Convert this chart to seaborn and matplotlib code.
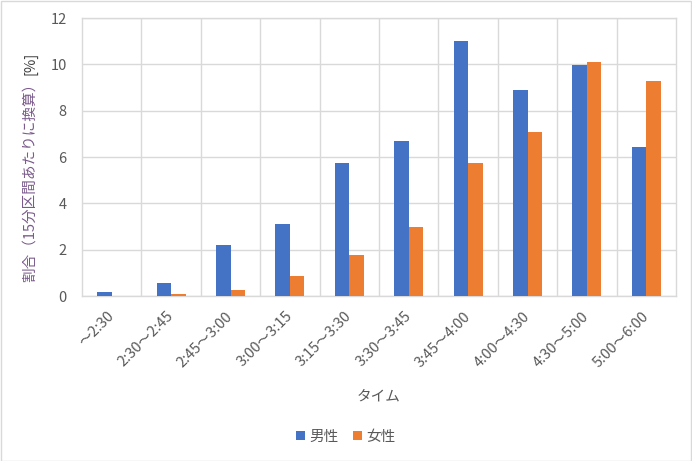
import matplotlib
matplotlib.use("Agg")
import matplotlib.pyplot as plt
import seaborn as sns
import pandas as pd
from matplotlib.patches import Rectangle

# データ
categories = ["～2:30", "2:30～2:45", "2:45～3:00", "3:00～3:15", "3:15～3:30",
              "3:30～3:45", "3:45～4:00", "4:00～4:30", "4:30～5:00", "5:00～6:00"]
male = [0.16, 0.55, 2.18, 3.09, 5.76, 6.67, 11.02, 8.91, 9.95, 6.45]
female = [0.0, 0.07, 0.24, 0.85, 1.75, 2.96, 5.76, 7.10, 10.12, 9.26]
series = ["男性", "女性"]
colors = ["#4472C4", "#ED7D31"]
yticks = [0, 2, 4, 6, 8, 10, 12]

df = pd.DataFrame({
    "タイム": categories * 2,
    "割合": male + female,
    "性別": [series[0]] * len(male) + [series[1]] * len(female),
})

sns.set_theme(style="white")
plt.rcParams["font.family"] = ["Noto Sans CJK JP", "DejaVu Sans"]
text_gray = "#595959"
grid_gray = "#d9d9d9"

W, H = 692, 461
fig = plt.figure(figsize=(W / 100, H / 100), dpi=100)
ax = fig.add_axes([82 / W, 1 - 296 / H, (676 - 82) / W, (296 - 18) / H])

sns.barplot(data=df, x="タイム", y="割合", hue="性別", palette=colors,
            width=0.49, saturation=1, linewidth=0, ax=ax, zorder=3)

ax.set_xlim(-0.5, len(categories) - 0.5)
ax.set_ylim(0, 12)
ax.set_yticks(yticks)
ax.set_xticks(range(len(categories)))
ax.set_xticklabels(categories, rotation=45, ha="right", va="center",
                   rotation_mode="anchor", fontsize=10.5, color=text_gray)
ax.set_yticklabels([str(v) for v in yticks], fontsize=10.5, color=text_gray)
ax.tick_params(axis="both", length=0)
ax.tick_params(axis="x", pad=13)
ax.tick_params(axis="y", pad=11)

# グリッド（縦線はカテゴリの境界）
ax.set_xticks([i + 0.5 for i in range(len(categories) - 1)], minor=True)
ax.tick_params(axis="x", which="minor", length=0)
ax.grid(axis="y", color=grid_gray, linewidth=1, zorder=0)
ax.grid(axis="x", which="minor", color=grid_gray, linewidth=1, zorder=0)
ax.grid(axis="x", which="major", visible=False)
for s in ax.spines.values():
    s.set_color(grid_gray)
    s.set_linewidth(1)

ax.set_xlabel("タイム", fontsize=10.5, color=text_gray, labelpad=14)
ax.set_ylabel("")

# 凡例
handles, labels = ax.get_legend_handles_labels()
ax.legend_.remove()
fig.legend(handles, labels, loc="center", bbox_to_anchor=(0.5, 1 - 437 / H),
           ncol=2, frameon=False, fontsize=10.5, labelcolor=text_gray,
           handlelength=0.6, handleheight=0.6, handletextpad=0.3,
           columnspacing=1.0)

# 縦軸ラベル（二色）
t1 = fig.text(30 / W, 1 - 282 / H, "割合（15分区間あたりに換算）", rotation=90,
              ha="center", va="bottom", fontsize=10.5, color="#7a5a8c")
fig.canvas.draw()
bb = t1.get_window_extent()
fig.text(30 / W, bb.y1 / (H) + 1 / H, "[%]", rotation=90, ha="center",
         va="bottom", fontsize=10.5, color="#404040")

# 外枠
fig.patches.append(Rectangle((0.5 / W, 0.5 / H), 1 - 1.5 / W, 1 - 1.5 / H,
                             transform=fig.transFigure, fill=False,
                             edgecolor=grid_gray, linewidth=1))

fig.savefig("out.png", dpi=100)
